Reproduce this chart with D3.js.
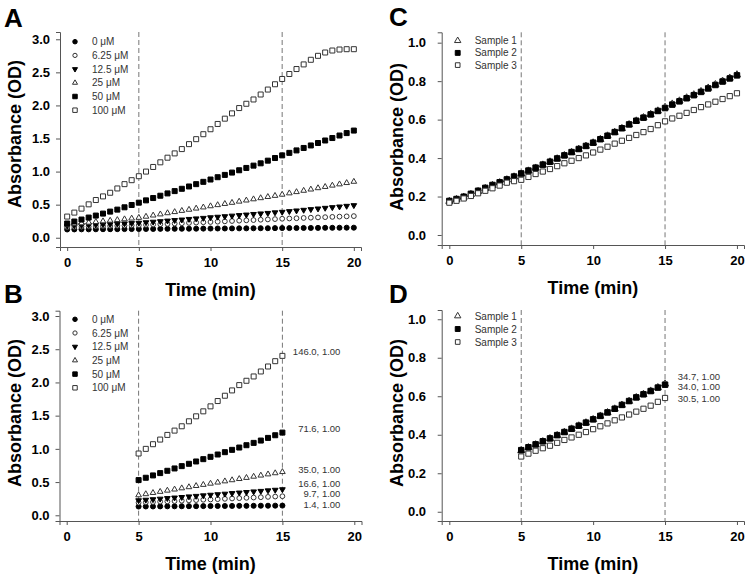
<!DOCTYPE html>
<html>
<head>
<meta charset="utf-8">
<script src="https://cdn.jsdelivr.net/npm/d3@7"></script>
<style>
  html, body { margin: 0; padding: 0; background: #fff; }
  svg { display: block; font-family: "Liberation Sans", Arial, sans-serif; }
</style>
</head>
<body>
<svg id="chart" width="752" height="581"></svg>
<script>
// ---------------- DATA ----------------
const times = [0,0.5,1,1.5,2,2.5,3,3.5,4,4.5,5,5.5,6,6.5,7,7.5,8,8.5,9,9.5,10,
               10.5,11,11.5,12,12.5,13,13.5,14,14.5,15,15.5,16,16.5,17,17.5,18,18.5,19,19.5,20];

const concLabels = ["0 μM", "6.25 μM", "12.5 μM", "25 μM", "50 μM", "100 μM"];

const conc0 = [0.125,0.126,0.127,0.127,0.128,0.129,0.129,0.130,0.131,0.131,0.132,0.133,0.133,0.134,0.135,0.135,0.136,0.137,0.137,0.138,0.139,
               0.140,0.140,0.141,0.142,0.142,0.143,0.144,0.144,0.145,0.146,0.146,0.147,0.148,0.148,0.149,0.150,0.150,0.151,0.152,0.152];
const conc625 = [0.160,0.163,0.166,0.169,0.172,0.175,0.178,0.181,0.184,0.187,0.190,0.195,0.200,0.205,0.209,0.214,0.219,0.224,0.229,0.234,0.238,
                 0.243,0.248,0.253,0.258,0.263,0.267,0.272,0.277,0.282,0.287,0.291,0.295,0.299,0.303,0.307,0.311,0.315,0.319,0.323,0.327];
const conc125 = [0.180,0.184,0.188,0.192,0.196,0.201,0.205,0.209,0.214,0.219,0.224,0.232,0.240,0.248,0.257,0.265,0.273,0.282,0.290,0.298,0.307,
                 0.315,0.323,0.332,0.340,0.348,0.357,0.365,0.373,0.382,0.390,0.400,0.410,0.420,0.430,0.440,0.450,0.460,0.470,0.480,0.490];
const conc25 = [0.200,0.210,0.220,0.230,0.240,0.250,0.260,0.270,0.281,0.292,0.303,0.320,0.338,0.355,0.373,0.390,0.408,0.425,0.443,0.460,0.478,
                0.495,0.513,0.530,0.548,0.565,0.583,0.600,0.618,0.635,0.653,0.673,0.692,0.712,0.731,0.751,0.770,0.790,0.809,0.829,0.848];
const conc50 = [0.215,0.245,0.275,0.305,0.335,0.365,0.395,0.425,0.460,0.495,0.530,0.565,0.600,0.635,0.670,0.705,0.740,0.775,0.810,0.845,0.880,
                0.915,0.950,0.985,1.020,1.055,1.090,1.125,1.165,1.205,1.245,1.283,1.320,1.357,1.395,1.432,1.470,1.507,1.545,1.582,1.620];
const conc100 = [0.320,0.380,0.440,0.505,0.570,0.625,0.680,0.745,0.810,0.870,0.930,1.000,1.070,1.140,1.210,1.275,1.340,1.415,1.490,1.565,1.640,
                 1.720,1.800,1.880,1.960,2.025,2.090,2.165,2.240,2.320,2.400,2.475,2.550,2.620,2.690,2.750,2.800,2.830,2.845,2.850,2.850];

const sampleLabels = ["Sample 1", "Sample 2", "Sample 3"];
const sample1 = [0.175,0.185,0.197,0.211,0.226,0.242,0.258,0.272,0.287,0.302,0.317,0.333,0.348,0.364,0.380,0.396,0.413,0.430,0.446,0.462,0.479,
                 0.497,0.515,0.534,0.554,0.574,0.593,0.610,0.627,0.645,0.664,0.681,0.697,0.713,0.729,0.746,0.764,0.782,0.800,0.816,0.833];
const sample2 = [0.177,0.187,0.199,0.214,0.230,0.245,0.260,0.274,0.289,0.304,0.320,0.335,0.350,0.366,0.381,0.398,0.414,0.431,0.447,0.463,0.480,
                 0.498,0.516,0.535,0.555,0.575,0.594,0.610,0.627,0.645,0.660,0.678,0.695,0.711,0.727,0.744,0.762,0.780,0.798,0.814,0.830];
const sample3 = [0.168,0.178,0.190,0.203,0.217,0.230,0.243,0.257,0.272,0.280,0.287,0.302,0.317,0.330,0.343,0.358,0.373,0.386,0.400,0.414,0.429,
                 0.444,0.459,0.475,0.490,0.505,0.520,0.535,0.551,0.571,0.591,0.606,0.620,0.635,0.650,0.665,0.679,0.693,0.707,0.722,0.737];

// slope annotations (panel B / D), and OD level at which each label sits
const slopeLabelsB = ["146.0, 1.00", "71.6, 1.00", "35.0, 1.00", "16.6, 1.00", "9.7, 1.00", "1.4, 1.00"];
const slopeLevelsB = [2.463, 1.299, 0.692, 0.478, 0.318, 0.166];
const slopeLabelsD = ["34.7, 1.00", "34.0, 1.00", "30.5, 1.00"];
const slopeLevelsD = [0.703, 0.651, 0.587];

const xTicks = [0, 5, 10, 15, 20];
const yTicksAB = [0, 0.5, 1.0, 1.5, 2.0, 2.5, 3.0];
const yTicksCD = [0, 0.2, 0.4, 0.6, 0.8, 1.0];
const windowStart = 5, windowEnd = 15;

// ---------------- DRAW ----------------
const svg = d3.select("#chart");
const AXIS_COLOR = "#555";

const concSeries = [conc0, conc625, conc125, conc25, conc50, conc100];
const concStyle = [
  {type: d3.symbolCircle, size: 20, fill: "#000", rot: 0},
  {type: d3.symbolCircle, size: 18, fill: "#fff", rot: 0},
  {type: d3.symbolTriangle, size: 14, fill: "#000", rot: 180},
  {type: d3.symbolTriangle, size: 14, fill: "#fff", rot: 0},
  {type: d3.symbolSquare, size: 25, fill: "#000", rot: 0},
  {type: d3.symbolSquare, size: 25, fill: "#fff", rot: 0}
];
const sampleSeries = [sample1, sample2, sample3];
const sampleStyle = [
  {type: d3.symbolTriangle, size: 22, fill: "#fff", rot: 0},
  {type: d3.symbolSquare, size: 30, fill: "#000", rot: 0},
  {type: d3.symbolSquare, size: 27, fill: "#fff", rot: 0}
];

function panel(cfg) {
  const g = svg.append("g");
  const x = d3.scaleLinear().domain(cfg.xDom).range(cfg.xRange);
  const y = d3.scaleLinear().domain(cfg.yDom).range(cfg.yRange);

  // dashed window lines
  [windowStart, windowEnd].forEach(t => {
    g.append("line")
      .attr("x1", x(t)).attr("x2", x(t))
      .attr("y1", cfg.yRange[1]).attr("y2", cfg.yRange[0])
      .attr("stroke", "#777").attr("stroke-width", 1)
      .attr("stroke-dasharray", "5,3");
  });

  // axes
  const xAxis = d3.axisBottom(x).tickValues(xTicks).tickFormat(d3.format("d"))
    .tickSizeOuter(0).tickSize(4).tickPadding(7);
  const gx = g.append("g").attr("transform", `translate(0,${cfg.yRange[0]})`).call(xAxis);
  const yAxis = d3.axisLeft(y).tickValues(cfg.yTicks).tickFormat(d3.format(".1f"))
    .tickSizeOuter(0).tickSize(4).tickPadding(cfg.yPad);
  const gy = g.append("g").attr("transform", `translate(${cfg.xRange[0]},0)`).call(yAxis);
  [gx, gy].forEach(a => {
    a.select(".domain").attr("stroke", AXIS_COLOR);
    a.selectAll(".tick line").attr("stroke", AXIS_COLOR);
    a.selectAll(".tick text").attr("fill", "#000")
      .style("font-size", "13px").style("font-weight", "bold")
      .style("font-family", "'Liberation Sans', Arial, sans-serif");
  });

  // axis titles
  g.append("text")
    .attr("x", (cfg.xRange[0] + cfg.xRange[1]) / 2).attr("y", cfg.yRange[0] + 48.5)
    .attr("text-anchor", "middle").style("font-size", "18px").style("font-weight", "bold")
    .text("Time (min)");
  g.append("text")
    .attr("transform", `translate(${cfg.yTitleX},${cfg.yTitleY}) rotate(-90)`)
    .attr("text-anchor", "middle").attr("dy", "0.35em")
    .style("font-size", "18px").style("font-weight", "bold")
    .text("Absorbance (OD)");

  // panel letter
  g.append("text").attr("x", cfg.letterX).attr("y", cfg.letterY)
    .style("font-size", "26px").style("font-weight", "bold").text(cfg.letter);

  // series
  cfg.series.forEach((vals, i) => {
    const st = cfg.styles[i];
    const sym = d3.symbol().type(st.type).size(st.size);
    const pts = times.map((t, j) => ({t, v: vals[j]}))
      .filter(d => d.t >= cfg.tMin && d.t <= cfg.tMax);
    g.append("g").selectAll("path").data(pts).join("path")
      .attr("d", sym)
      .attr("transform", d => `translate(${x(d.t)},${y(d.v)}) rotate(${st.rot})`)
      .attr("fill", st.fill).attr("stroke", st.fill === "#000" ? "#000" : "#333")
      .attr("stroke-width", 1);
  });

  // legend
  cfg.labels.forEach((lab, i) => {
    const st = cfg.styles[i];
    const ly = cfg.legY + i * cfg.legStep;
    g.append("path")
      .attr("d", d3.symbol().type(st.type).size(st.size * 0.8))
      .attr("transform", `translate(${cfg.legX},${ly}) rotate(${st.rot})`)
      .attr("fill", st.fill).attr("stroke", st.fill === "#000" ? "#000" : "#333");
    g.append("text").attr("x", cfg.legX + 17).attr("y", ly).attr("dy", "0.35em")
      .style("font-size", "10px").attr("fill", "#333").text(lab);
  });

  // slope annotations
  if (cfg.notes) {
    cfg.notes.forEach((txt, i) => {
      g.append("text")
        .attr("x", x(windowEnd) + cfg.noteDx).attr("y", y(cfg.noteLevels[i])).attr("dy", "0.35em")
        .attr("text-anchor", "end").style("font-size", "9.5px").attr("fill", "#333")
        .text(txt);
    });
  }
}

// Panel A
panel({
  letter: "A", letterX: 4, letterY: 27,
  xDom: [-0.5, 20.5], xRange: [60, 361],
  yDom: [-0.14, 3.11], yRange: [247, 32], yTicks: yTicksAB, yPad: 6,
  yTitleX: 15, yTitleY: 134,
  series: concSeries, styles: concStyle, labels: concLabels,
  tMin: 0, tMax: 20,
  legX: 75, legY: 41.7, legStep: 13.7
});
// Panel B
panel({
  letter: "B", letterX: 4, letterY: 303,
  xDom: [-0.5, 20.5], xRange: [59.5, 361.5],
  yDom: [-0.086, 3.08], yRange: [521, 310.7], yTicks: yTicksAB, yPad: 6,
  yTitleX: 15, yTitleY: 413,
  series: concSeries, styles: concStyle, labels: concLabels,
  tMin: windowStart, tMax: windowEnd,
  legX: 75, legY: 319.3, legStep: 13.7,
  notes: slopeLabelsB, noteLevels: slopeLevelsB, noteDx: 58
});
// Panel C
panel({
  letter: "C", letterX: 389, letterY: 26,
  xDom: [-0.53, 20.49], xRange: [441.7, 744],
  yDom: [-0.052, 1.054], yRange: [245, 32.3], yTicks: yTicksCD, yPad: 11.7,
  yTitleX: 397, yTitleY: 137,
  series: sampleSeries, styles: sampleStyle, labels: sampleLabels,
  tMin: 0, tMax: 20,
  legX: 457.7, legY: 40.7, legStep: 12.2
});
// Panel D
panel({
  letter: "D", letterX: 389, letterY: 303,
  xDom: [-0.53, 20.49], xRange: [441.7, 744],
  yDom: [-0.048, 1.048], yRange: [521, 310], yTicks: yTicksCD, yPad: 11.7,
  yTitleX: 397, yTitleY: 413,
  series: sampleSeries, styles: sampleStyle, labels: sampleLabels,
  tMin: windowStart, tMax: windowEnd,
  legX: 457.7, legY: 316, legStep: 13,
  notes: slopeLabelsD, noteLevels: slopeLevelsD, noteDx: 55
});
</script>
</body>
</html>
